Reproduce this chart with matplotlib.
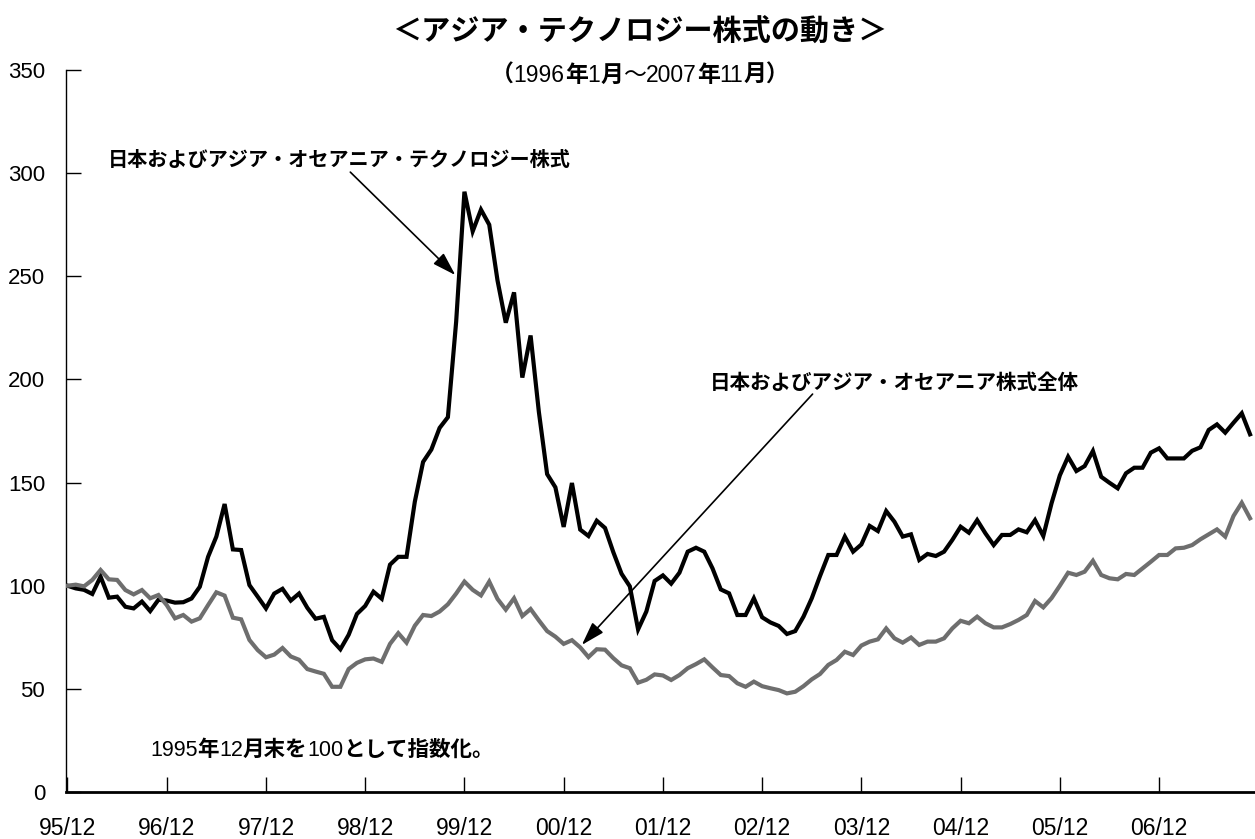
import matplotlib
matplotlib.use("Agg")
import matplotlib.pyplot as plt
import numpy as np
from matplotlib.offsetbox import AnnotationBbox, HPacker, TextArea

plt.rcParams["font.family"] = ["Liberation Sans", "Noto Sans CJK JP"]

# monthly index, 1995/12 = 100 (month 0) to 2007/11 (month 143)
tech = [
    100, 98.7, 98, 96, 104.4, 94.2, 94.7, 89.8, 89, 92.3, 87.7, 93.2,
    92.8, 91.8, 92, 93.8, 99.5, 114, 123.8, 139.6, 117.6, 117.3, 100.3, 94.7,
    89, 96.2, 98.5, 92.8, 96.2, 89.3, 84, 84.9, 73.6, 69.2, 76.2, 86.3,
    90.2, 97.1, 93.7, 110.2, 114, 114, 140.7, 160, 166, 176.5, 181.7, 228,
    291, 271.8, 282.3, 275, 248, 227.5, 242.2, 200.9, 221.3, 184.3, 154.1, 147.7,
    128.5, 149.8, 127.2, 124.1, 131.5, 128, 116.3, 105.8, 99.7, 78.8, 87.5, 102.3,
    105, 101, 106.3, 116.5, 118.4, 116.5, 108.4, 98.2, 96.3, 85.8, 85.8, 93.9,
    84.7, 82.2, 80.5, 76.6, 78, 85, 93.9, 104.7, 114.9, 114.9, 123.8, 116.5,
    120, 129, 126.5, 136.2, 131, 123.8, 124.9, 112.5, 115.4, 114.4, 116.5, 122.2,
    128.6, 125.7, 131.8, 125.4, 119.7, 124.6, 124.6, 127.3, 125.9, 131.8, 124.1, 140,
    153.5, 162.5, 155.6, 158, 165.3, 152.8, 149.9, 147.2, 154.5, 157.2, 157.2, 164.5,
    166.6, 161.7, 161.7, 161.7, 165.4, 167.1, 175.5, 178.2, 174.2, 179, 183.6, 173.4,
]
overall = [
    100, 100.5, 99.7, 102.8, 107.6, 103.1, 102.8, 97.9, 95.8, 97.9, 93.9, 95.5,
    90.6, 84.2, 85.8, 82.6, 84.2, 90.6, 96.8, 95.2, 84.5, 83.7, 73.7, 68.8,
    65.3, 66.6, 69.8, 65.7, 64.1, 59.6, 58.4, 57.3, 51, 51, 59.6, 62.6,
    64.3, 64.7, 63.1, 71.8, 77, 72.4, 80.6, 85.8, 85.3, 87.5, 91, 96.2,
    102, 98, 95.3, 102, 93.6, 88.4, 93.9, 85.3, 88.7, 83.2, 78, 75.3,
    71.8, 73.6, 70.1, 65.4, 69.2, 69, 64.9, 61.4, 60, 53, 54.4, 57,
    56.5, 54.3, 56.7, 60, 62, 64.3, 60.4, 56.7, 56.2, 52.7, 51, 53.5,
    51.3, 50.3, 49.4, 47.8, 48.6, 51.3, 54.6, 57.2, 61.6, 64, 68, 66.4,
    71, 72.9, 74, 79.3, 74.5, 72.4, 74.9, 71.3, 72.9, 72.9, 74.5, 79.3,
    83, 81.8, 85, 81.8, 79.8, 79.8, 81.4, 83.4, 85.8, 92.6, 89.5, 94,
    100, 106.3, 105.2, 106.8, 112.1, 105.2, 103.6, 103.1, 105.7, 105.2, 108.4, 111.6,
    114.9, 114.9, 118.1, 118.4, 119.7, 122.5, 124.9, 127.3, 123.8, 133.8, 140.2, 132.7,
]
tick_labels = ["95/12", "96/12", "97/12", "98/12", "99/12", "00/12",
               "01/12", "02/12", "03/12", "04/12", "05/12", "06/12"]
y_ticks = [0, 50, 100, 150, 200, 250, 300, 350]

TITLE = "＜アジア・テクノロジー株式の動き＞"
SUBTITLE = [("（", "bold"), ("1996", "normal"), ("年", "bold"), ("1", "normal"),
            ("月", "bold"), ("～", "normal"), ("2007", "normal"), ("年", "bold"),
            ("11", "normal"), ("月）", "bold")]
NOTE = [("1995", "normal"), ("年", "bold"), ("12", "normal"), ("月末を", "bold"),
        ("100", "normal"), ("として指数化。", "bold")]
LABEL_TECH = "日本およびアジア・オセアニア・テクノロジー株式"
LABEL_ALL = "日本およびアジア・オセアニア株式全体"

FONTS = ["Liberation Sans", "Noto Sans CJK JP"]


def mixed_text(fig, x, y, pieces, size, halign=0.0):
    boxes = [TextArea(s, textprops={"fontsize": size, "fontweight": w, "family": FONTS})
             for s, w in pieces]
    pack = HPacker(children=boxes, align="baseline", pad=0, sep=0)
    box = AnnotationBbox(pack, (x, y), xycoords="figure pixels", frameon=False,
                         box_alignment=(halign, 0.5), pad=0)
    fig.add_artist(box)
    return box


W, H = 1255, 839
fig = plt.figure(figsize=(W / 100, H / 100), dpi=100)
ax = fig.add_axes([66 / W, 47 / H, 1189 / W, 722 / H])

months = np.arange(len(tech))
ax.plot(months, tech, color="black", lw=3.0, solid_joinstyle="miter", zorder=3)
ax.plot(months, overall, color="#6e6e6e", lw=3.0, solid_joinstyle="miter", zorder=4)

ax.set_xlim(-0.18, 143.6)
ax.set_ylim(0, 350)
ax.set_yticks(y_ticks)
ax.set_xticks(np.arange(len(tick_labels)) * 12, tick_labels)
ax.tick_params(axis="both", direction="in", length=11, width=1, labelsize=16)
ax.tick_params(axis="y", pad=15)
ax.tick_params(axis="x", pad=18, labelsize=16.5)
for spine in ("top", "right"):
    ax.spines[spine].set_visible(False)
ax.spines["left"].set_linewidth(1.0)
ax.spines["bottom"].set_linewidth(2.0)

arrow = {"arrowstyle": "-|>,head_length=0.8,head_width=0.25", "color": "black",
         "lw": 1.2, "mutation_scale": 18, "shrinkA": 0, "shrinkB": 0}
ax.annotate("", xy=(46.9, 250.6), xytext=(34.2, 300.5), arrowprops=arrow)
ax.annotate("", xy=(62.2, 71.3), xytext=(90.1, 192.9), arrowprops=arrow)

fig.text(0.51, 1 - 33 / H, TITLE, ha="center", va="center", fontsize=21, fontweight="bold")
mixed_text(fig, 640, H - 75, SUBTITLE, 16.5, halign=0.5)
fig.text(108 / W, 1 - 160 / H, LABEL_TECH, ha="left", va="center", fontsize=14.5,
         fontweight="bold")
fig.text(710 / W, 1 - 383 / H, LABEL_ALL, ha="left", va="center", fontsize=14.8,
         fontweight="bold")
mixed_text(fig, 150, H - 750, NOTE, 15.5)

fig.savefig("out.png", dpi=100)
